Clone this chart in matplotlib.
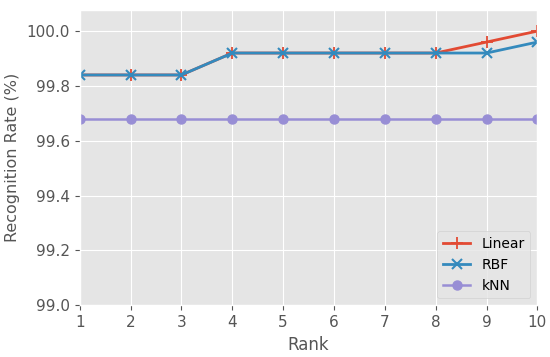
import matplotlib
matplotlib.use('Agg')
import matplotlib.pyplot as plt

rank = [1, 2, 3, 4, 5, 6, 7, 8, 9, 10]
linear = [99.84, 99.84, 99.84, 99.92, 99.92, 99.92, 99.92, 99.92, 99.96, 100.0]
rbf = [99.84, 99.84, 99.84, 99.92, 99.92, 99.92, 99.92, 99.92, 99.92, 99.96]
knn = [99.68] * 10

plt.style.use('ggplot')
fig, ax = plt.subplots(figsize=(5.5, 3.57), dpi=100)
fig.subplots_adjust(left=0.145, right=0.977, top=0.972, bottom=0.145)

ax.plot(rank, linear, marker='+', markersize=8, markeredgewidth=1.3, linewidth=2, color='#E24A33', label='Linear')
ax.plot(rank, rbf, marker='x', markersize=6.5, markeredgewidth=1.5, linewidth=2, color='#348ABD', label='RBF')
ax.plot(rank, knn, marker='o', markersize=6.5, linewidth=1.8, color='#988ED5', label='kNN')

ax.set_xlim(1, 10)
ax.set_ylim(99.0, 100.077)
ax.set_xticks(rank)
ax.set_yticks([99.0, 99.2, 99.4, 99.6, 99.8, 100.0])
ax.set_xlabel('Rank', fontsize=12)
ax.set_ylabel('Recognition Rate (%)', fontsize=11.5, labelpad=5)
ax.tick_params(labelsize=11, colors='#555555')
ax.legend(loc='lower right', fontsize=10)

fig.savefig('out.png')
